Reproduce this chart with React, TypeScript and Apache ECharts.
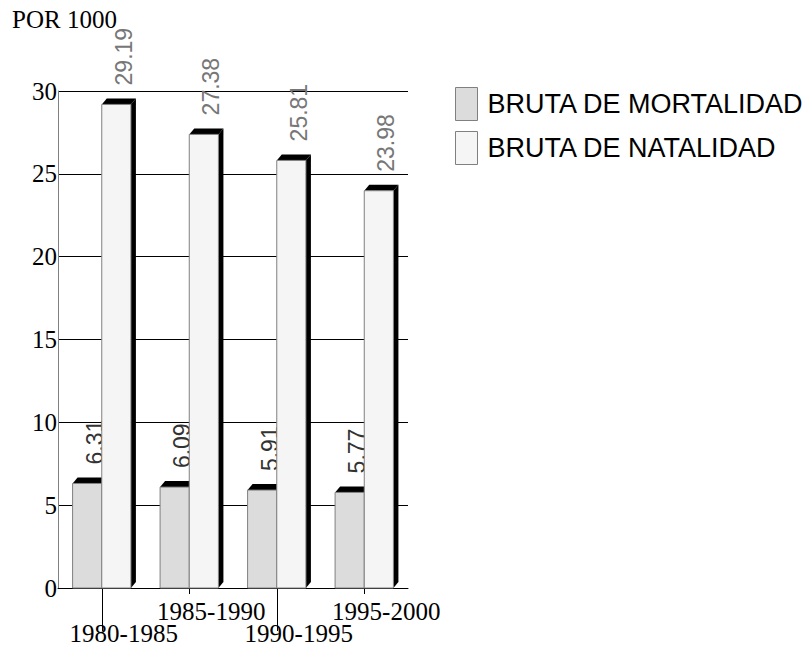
import React, { useEffect, useRef } from "react";
import * as echarts from "echarts";

const categories = ["1980-1985", "1985-1990", "1990-1995", "1995-2000"];
const mortalidad = [6.31, 6.09, 5.91, 5.77];
const natalidad = [29.19, 27.38, 25.81, 23.98];
const seriesNames = ["BRUTA DE MORTALIDAD", "BRUTA DE NATALIDAD"];
const yMin = 0;
const yMax = 30;
const yInterval = 5;
const unitLabel = "POR 1000";

const SERIF = "Liberation Serif";
const SANS = "Liberation Sans";
const DX = 5;
const DY = 6;

function makeRender(side: number, face: string, labelColor: string) {
  return (params: any, api: any) => {
    const i = api.value(0);
    const v = api.value(1);
    const band = api.size([1, 0])[0];
    const w = band / 3;
    const c = api.coord([i, 0]);
    const t = api.coord([i, v]);
    const x0 = side < 0 ? c[0] - w : c[0];
    const x1 = x0 + w;
    const top = t[1];
    const bot = c[1];
    return {
      type: "group",
      children: [
        {
          type: "polygon",
          shape: { points: [[x1, top], [x1 + DX, top - DY], [x1 + DX, bot - DY], [x1, bot]] },
          style: { fill: "#000" },
        },
        {
          type: "polygon",
          shape: { points: [[x0, top], [x0 + DX, top - DY], [x1 + DX, top - DY], [x1, top]] },
          style: { fill: "#000" },
        },
        {
          type: "rect",
          shape: { x: x0, y: top, width: w, height: bot - top },
          style: { fill: face, stroke: "#808080", lineWidth: 1 },
        },
        {
          type: "text",
          x: x0 + w / 2 + 7.5,
          y: top - 19,
          rotation: Math.PI / 2,
          style: {
            text: Number(v).toFixed(2),
            fill: labelColor,
            fontSize: 23,
            fontFamily: SANS,
            align: "left",
            verticalAlign: "middle",
          },
        },
      ],
    };
  };
}

export default function App() {
  const ref = useRef<HTMLDivElement>(null);
  useEffect(() => {
    if (!ref.current) return;
    const chart = echarts.init(ref.current, null, { renderer: "svg" });
    const catLabel = { fontFamily: SERIF, fontSize: 25, color: "#000" };
    chart.setOption({
      animation: false,
      backgroundColor: "#fff",
      title: {
        text: unitLabel,
        left: 12,
        top: 7,
        padding: 0,
        textStyle: { fontFamily: SERIF, fontSize: 25, fontWeight: "normal", color: "#000" },
      },
      legend: {
        orient: "vertical",
        left: 455,
        top: 87,
        padding: 0,
        itemWidth: 22,
        itemHeight: 33,
        itemGap: 10,
        textStyle: { fontFamily: SANS, fontSize: 27, color: "#000", padding: [4, 0, 0, 5] },
        data: [
          { name: seriesNames[0], icon: "rect", itemStyle: { color: "#dcdcdc", borderColor: "#808080", borderWidth: 1 } },
          { name: seriesNames[1], icon: "rect", itemStyle: { color: "#f5f5f5", borderColor: "#808080", borderWidth: 1 } },
        ],
      },
      grid: { left: 58, right: 403, top: 91, bottom: 57, containLabel: false },
      xAxis: [
        {
          type: "category",
          data: categories,
          boundaryGap: true,
          position: "bottom",
          axisLine: { show: true, lineStyle: { color: "#000", width: 1 } },
          axisTick: { show: true, alignWithLabel: true, length: 6, lineStyle: { color: "#000" } },
          axisLabel: {
            interval: 0,
            margin: 11,
            ...catLabel,
            formatter: (v: string, i: number) => (i % 2 === 0 ? `{lo|${v}}` : `{hi|${v}}`),
            rich: {
              hi: { ...catLabel, lineHeight: 25, padding: [0, 0, 0, 44] },
              lo: { ...catLabel, lineHeight: 69, padding: [0, 0, 0, 44] },
            },
          },
          splitLine: { show: false },
        },
        {
          type: "category",
          data: categories,
          boundaryGap: true,
          position: "bottom",
          axisLine: { show: false },
          axisLabel: { show: false },
          axisTick: {
            show: true,
            alignWithLabel: true,
            length: 43,
            interval: (i: number) => i % 2 === 0,
            lineStyle: { color: "#000" },
          },
          splitLine: { show: false },
        },
      ],
      yAxis: {
        type: "value",
        min: yMin,
        max: yMax,
        interval: yInterval,
        axisLine: { show: true, lineStyle: { color: "#808080", width: 1 } },
        axisTick: { show: false },
        axisLabel: { margin: 1, fontFamily: SERIF, fontSize: 25, color: "#000" },
        splitLine: { show: true, lineStyle: { color: "#000", width: 1 } },
      },
      series: [
        {
          name: seriesNames[0],
          type: "custom",
          xAxisIndex: 0,
          itemStyle: { color: "#dcdcdc", borderColor: "#808080" },
          encode: { x: 0, y: 1 },
          renderItem: makeRender(-1, "#dcdcdc", "#333"),
          data: mortalidad.map((v, i) => [i, v]),
        },
        {
          name: seriesNames[1],
          type: "custom",
          xAxisIndex: 0,
          itemStyle: { color: "#f5f5f5", borderColor: "#808080" },
          encode: { x: 0, y: 1 },
          renderItem: makeRender(1, "#f5f5f5", "#777"),
          data: natalidad.map((v, i) => [i, v]),
        },
      ],
    });
    return () => chart.dispose();
  }, []);
  return (
    <div
      ref={ref}
      style={{ position: "fixed", left: 0, top: 0, width: 811, height: 646, background: "#fff" }}
    />
  );
}
